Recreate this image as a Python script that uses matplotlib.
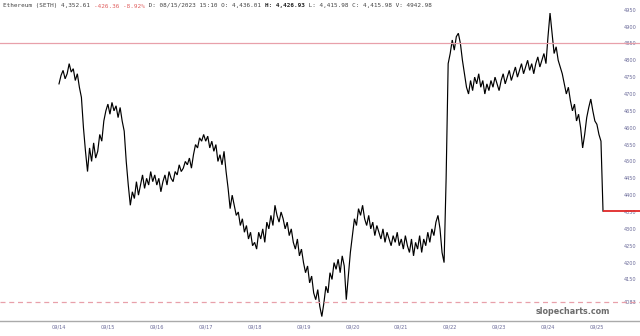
import numpy as np
import matplotlib
matplotlib.use("Agg")
import matplotlib.pyplot as plt

# ---- data (hourly closes, starting 09/14 00:00) ----
d0914 = [4730, 4755, 4770, 4745, 4760, 4790, 4765, 4775, 4740, 4760, 4720, 4690,
         4600, 4530, 4470, 4540, 4500, 4555, 4510, 4530, 4580, 4560, 4620, 4650]
d0915 = [4670, 4640, 4675, 4650, 4665, 4630, 4660, 4620, 4590, 4500, 4430, 4370,
         4410, 4390, 4440, 4400, 4430, 4460, 4420, 4450, 4430, 4470, 4440, 4460]
d0916 = [4430, 4450, 4410, 4440, 4460, 4430, 4470, 4450, 4440, 4470, 4460, 4490,
         4470, 4480, 4500, 4490, 4510, 4480, 4520, 4550, 4540, 4570, 4560, 4580]
d0917 = [4560, 4575, 4540, 4560, 4530, 4550, 4500, 4520, 4490, 4530, 4470, 4420,
         4360, 4400, 4370, 4340, 4350, 4310, 4330, 4290, 4310, 4270, 4290, 4250]
d0918 = [4260, 4240, 4290, 4270, 4300, 4260, 4320, 4300, 4340, 4310, 4370, 4340,
         4320, 4350, 4330, 4300, 4320, 4280, 4300, 4260, 4240, 4270, 4220, 4240]
d0919 = [4200, 4170, 4190, 4140, 4160, 4110, 4090, 4120, 4070, 4040, 4080, 4130,
         4110, 4170, 4150, 4200, 4180, 4210, 4170, 4220, 4190, 4090, 4160, 4230]
d0920 = [4280, 4330, 4310, 4360, 4340, 4370, 4330, 4310, 4340, 4300, 4320, 4280,
         4310, 4290, 4270, 4300, 4260, 4290, 4270, 4250, 4280, 4260, 4290, 4250]
d0921 = [4270, 4240, 4280, 4250, 4230, 4270, 4220, 4260, 4240, 4280, 4230, 4270,
         4250, 4290, 4260, 4300, 4280, 4320, 4340, 4300, 4230, 4200, 4450, 4790]
d0922 = [4820, 4860, 4830, 4870, 4880, 4850, 4800, 4760, 4720, 4700, 4740, 4710,
         4750, 4730, 4760, 4720, 4740, 4700, 4730, 4710, 4740, 4720, 4750, 4730]
d0923 = [4710, 4740, 4760, 4730, 4750, 4770, 4740, 4760, 4780, 4750, 4770, 4790,
         4760, 4780, 4800, 4770, 4790, 4760, 4790, 4810, 4780, 4800, 4820, 4790]
d0924 = [4870, 4940, 4880, 4820, 4840, 4800, 4780, 4760, 4730, 4700, 4720, 4680,
         4650, 4670, 4620, 4640, 4600, 4540, 4580, 4630, 4660, 4685, 4650, 4620]
d0925 = [4610, 4580, 4560, 4352.61]
prices = d0914 + d0915 + d0916 + d0917 + d0918 + d0919 + d0920 + d0921 + \
    d0922 + d0923 + d0924 + d0925
step_hours = 1

date_labels = ["09/14", "09/15", "09/16", "09/17", "09/18", "09/19",
               "09/20", "09/21", "09/22", "09/23", "09/24", "09/25"]
y_ticks = list(range(4150, 4951, 50))
last_price = 4352.61
resistance = 4850
support = 4083

header_parts = [
    ("Ethereum (SETH) 4,352.61 ", "#444444", "normal"),
    ("-426.36 -8.92%", "#e06060", "normal"),
    (" D: 08/15/2023 15:10 O: 4,436.01 ", "#444444", "normal"),
    ("H: 4,426.93", "#222222", "bold"),
    (" L: 4,415.98 C: 4,415.98 V: 4942.98", "#444444", "normal"),
]

# ---- figure ----
W, H = 640, 336
fig = plt.figure(figsize=(W / 100, H / 100), dpi=100)
ax = fig.add_axes([0, 15 / H, 1, 1 - 15 / H])

t = np.arange(len(prices)) * step_hours / 24.0
ax.plot(t, prices, color="black", lw=0.85, solid_joinstyle="miter")

ax.axhline(resistance, color="#e8a0aa", lw=0.9)
ax.axhline(support, color="#e8a0aa", lw=0.9, dashes=(4, 3))
ax.hlines(last_price, t[-1], 20, color="#e02828", lw=1.3)

ax.set_xlim(-59 / 48.9, 581 / 48.9)
ax.set_ylim(4026.8, 4978.7)

ax.set_xticks(range(len(date_labels)))
ax.set_xticklabels(date_labels)
ticks = y_ticks + [support]
ax.set_yticks(ticks)
ax.set_yticklabels([str(v) for v in ticks])

ax.tick_params(axis="x", length=0, pad=2.5, labelsize=3.6, colors="#6a6a99")
ax.tick_params(axis="y", left=False, right=True, labelleft=False,
               labelright=True, length=0, pad=-12, labelsize=3.6,
               colors="#6a6a99")
for s in ["top", "left", "right"]:
    ax.spines[s].set_visible(False)
ax.spines["bottom"].set_color("#aaaaaa")
ax.spines["bottom"].set_linewidth(1.0)

ax.text(610 / W, 9 / (H - 15), "slopecharts.com", transform=ax.transAxes,
        ha="right", va="center", fontsize=5.8, fontweight="bold",
        color="#6c6c6c", family="DejaVu Sans")

# header
cw = 3.64 / W
pos = 0
for txt, col, wt in header_parts:
    fig.text(3 / W + pos * cw, 1 - 6 / H, txt, color=col, fontweight=wt,
             family="DejaVu Sans Mono", fontsize=4.35, va="center", ha="left")
    pos += len(txt)

fig.savefig("out.png", dpi=100, facecolor="white")
